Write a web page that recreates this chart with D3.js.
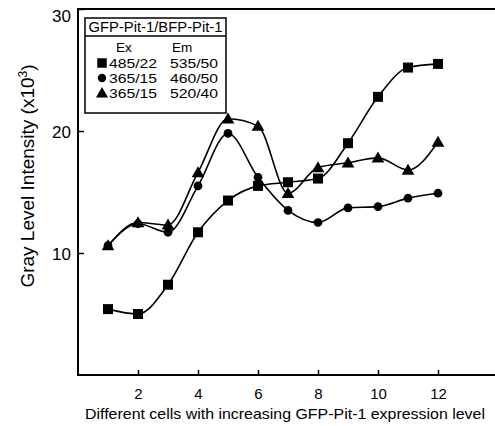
<!DOCTYPE html>
<html><head><meta charset="utf-8">
<script src="https://cdn.jsdelivr.net/npm/d3@7"></script>
<style>body{margin:0;background:#fff}svg{display:block}text{font-family:"Liberation Sans",Arial,sans-serif;fill:#000}</style>
</head><body>
<script>
const cells = [1,2,3,4,5,6,7,8,9,10,11,12];
const squareVals = [5.4,5.0,7.4,11.7,14.3,15.5,15.8,16.1,19.0,22.8,25.2,25.5];
const circleVals = [10.6,12.4,11.7,15.5,19.8,16.2,13.5,12.5,13.7,13.8,14.5,14.9];
const triangleVals = [10.6,12.5,12.3,16.6,21.0,20.4,14.9,17.0,17.4,17.8,16.8,19.1];
const xTicks = [2,4,6,8,10,12];
const yTicks = [10,20,30];
const legendTitle = "GFP-Pit-1/BFP-Pit-1";
const legendEx = ["485/22","365/15","365/15"];
const legendEm = ["535/50","460/50","520/40"];
const symbols = [d3.symbolSquare, d3.symbolCircle, d3.symbolTriangle];
const symSizes = [100, 60, 70];

const W=495,H=426;
const svg=d3.select("body").append("svg").attr("width",W).attr("height",H);
const x=d3.scaleLinear().domain([0,14]).range([78,498]);
const y=d3.scaleLinear().domain([0,30]).range([375,9]);

// frame
svg.append("path").attr("d",`M${x(14)},${y(30)}H${x(0)}V${y(0)}H${x(14)}`)
  .attr("fill","none").attr("stroke","#000").attr("stroke-width",2);

const xa=svg.append("g").attr("transform",`translate(0,${y(0)})`)
  .call(d3.axisBottom(x).tickValues(xTicks).tickSize(-5).tickPadding(13).tickFormat(d3.format("d")));
const ya=svg.append("g").attr("transform",`translate(${x(0)},0)`)
  .call(d3.axisLeft(y).tickValues(yTicks).tickSize(-6).tickPadding(7).tickFormat(d3.format("d")));
[xa,ya].forEach(a=>{a.select(".domain").remove();a.selectAll("line").attr("stroke","#000").attr("stroke-width",1.5);
  a.selectAll("text").attr("fill","#000").style("font-family",'"Liberation Sans",Arial,sans-serif');});
xa.selectAll("text").attr("font-size",15);
ya.selectAll("text").attr("font-size",17).attr("dy",(d)=>d===30?"0.75em":"0.4em");

const series=[squareVals,circleVals,triangleVals];
const line=d3.line().x((d,i)=>x(cells[i])).y(d=>y(d)).curve(d3.curveMonotoneX);
series.forEach((vals,k)=>{
  svg.append("path").attr("d",line(vals)).attr("fill","none").attr("stroke","#000").attr("stroke-width",1.6);
  svg.append("g").selectAll("path").data(vals).join("path")
    .attr("transform",(d,i)=>`translate(${x(cells[i])},${y(d)+(k==2?1:0)})`)
    .attr("d",d3.symbol().type(symbols[k]).size(symSizes[k])).attr("fill","#000");
});

// legend
const lg=svg.append("g");
lg.append("rect").attr("x",85).attr("y",18).attr("width",141).attr("height",95).attr("fill","#fff").attr("stroke","#000").attr("stroke-width",1.5);
lg.append("line").attr("x1",85).attr("x2",226).attr("y1",36).attr("y2",36).attr("stroke","#000").attr("stroke-width",1.5);
lg.append("text").attr("x",155.5).attr("y",32).attr("text-anchor","middle").attr("font-size",14).attr("textLength",134).attr("lengthAdjust","spacingAndGlyphs").text(legendTitle);
lg.append("text").attr("x",124).attr("y",52).attr("text-anchor","middle").attr("font-size",13.5).text("Ex");
lg.append("text").attr("x",182).attr("y",52).attr("text-anchor","middle").attr("font-size",13.5).text("Em");
legendEx.forEach((t,i)=>{
  const yy=63+i*15;
  lg.append("path").attr("transform",`translate(102,${yy+(i==2?1:0)})`).attr("d",d3.symbol().type(symbols[i]).size(symSizes[i]*0.9)).attr("fill","#000");
  lg.append("text").attr("x",109).attr("y",yy+5).attr("font-size",13).attr("textLength",48).attr("lengthAdjust","spacingAndGlyphs").text(t);
  lg.append("text").attr("x",170).attr("y",yy+5).attr("font-size",13).attr("textLength",48).attr("lengthAdjust","spacingAndGlyphs").text(legendEm[i]);
});

// axis titles
svg.append("text").attr("transform","translate(34,176) rotate(-90)").attr("text-anchor","middle").attr("font-size",19)
  .html('Gray Level Intensity (x10<tspan baseline-shift="super" font-size="12">3</tspan>)');
svg.append("text").attr("x",285).attr("y",419).attr("text-anchor","middle").attr("font-size",14.5)
  .attr("textLength",400).attr("lengthAdjust","spacingAndGlyphs")
  .text("Different cells with increasing GFP-Pit-1 expression level");
</script>
</body></html>
